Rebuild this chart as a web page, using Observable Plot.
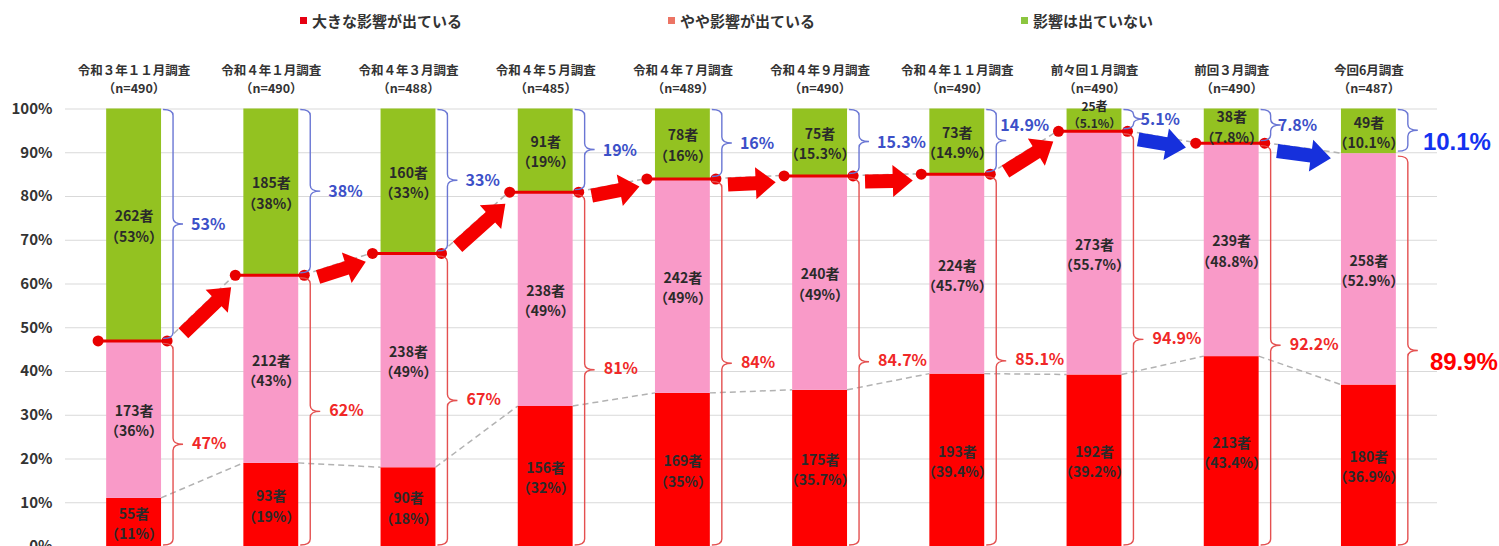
<!DOCTYPE html>
<html><head><meta charset="utf-8">
<script src="https://cdn.jsdelivr.net/npm/d3@7"></script>
<script src="https://cdn.jsdelivr.net/npm/@observablehq/plot@0.6"></script>
<style>
html,body{margin:0;padding:0;background:#fff;overflow:hidden;}
body{font-family:'Noto Sans CJK JP','Noto Sans',sans-serif;}
#legend{height:40px;display:flex;align-items:center;padding-left:300px;gap:206px;font-size:15px;font-weight:bold;color:#333;box-sizing:border-box;}
#legend .item{display:flex;align-items:center;gap:5px;white-space:nowrap;}
#legend .sw{width:7px;height:7px;display:inline-block;}
svg.plot, #chart svg{display:block;}
</style></head><body>
<div id="legend"></div>
<div id="chart"></div>
<script>
// ---- data ----
const surveys = ["令和３年１１月調査","令和４年１月調査","令和４年３月調査","令和４年５月調査","令和４年７月調査","令和４年９月調査","令和４年１１月調査","前々回１月調査","前回３月調査","今回6月調査"];
const sampleN = [490,490,488,485,489,490,490,490,490,487];
const seriesNames = ["大きな影響が出ている","やや影響が出ている","影響は出ていない"];
const majorCount = [55,93,90,156,169,175,193,192,213,180];
const majorPct   = [11,19,18,32,35,35.7,39.4,39.2,43.4,36.9];
const someCount  = [173,212,238,238,242,240,224,273,239,258];
const somePct    = [36,43,49,49,49,49,45.7,55.7,48.8,52.9];
const noneCount  = [262,185,160,91,78,75,73,25,38,49];
const nonePct    = [53,38,33,19,16,15.3,14.9,5.1,7.8,10.1];
const affectedPct = [47,62,67,81,84,84.7,85.1,94.9,92.2,89.9];

// ---- styles ----
const barColors = ["#fe0000","#f99ac8","#93c221"];
const legendColors = ["#e60012","#ec7464","#8cc63f"];
const font = "'Noto Sans CJK JP','Noto Sans',sans-serif";
const RED = "#f02828", BLUE = "#3c50c8";
const dotL = -36, dotR = 33;

// legend
const lg = document.getElementById("legend");
seriesNames.forEach((n,k)=>{
  const it = document.createElement("span"); it.className="item";
  const sw = document.createElement("span"); sw.className="sw"; sw.style.background=legendColors[k];
  const tx = document.createElement("span"); tx.textContent=n;
  it.appendChild(sw); it.appendChild(tx); lg.appendChild(it);
});

// tables built from the arrays
const rows = surveys.map((s,i)=>({s, i, n: sampleN[i], major: majorPct[i], top: majorPct[i]+somePct[i], none: nonePct[i], aff: affectedPct[i]}));
const segs = [];
rows.forEach(r=>{
  const i=r.i;
  segs.push({s:r.s,i,k:0,y1:0,y2:majorPct[i],c:majorCount[i],p:majorPct[i]});
  segs.push({s:r.s,i,k:1,y1:majorPct[i],y2:majorPct[i]+somePct[i],c:someCount[i],p:somePct[i]});
  segs.push({s:r.s,i,k:2,y1:majorPct[i]+somePct[i],y2:100,c:noneCount[i],p:nonePct[i]});
});
const linked = rows.slice(0,9);

function connectors(index, scales){
  const {x,y} = scales; const bw = x.bandwidth(); const cx = s=>x(s)+bw/2;
  const g = d3.create("svg:g").attr("fill","none").attr("stroke","#b2b2b2").attr("stroke-width",1.5).attr("stroke-dasharray","6,4");
  for(let i=0;i<rows.length-1;i++){
    const a=rows[i], b=rows[i+1];
    g.append("line").attr("x1",cx(a.s)+bw/2).attr("y1",y(a.major)).attr("x2",cx(b.s)-bw/2).attr("y2",y(b.major));
    const bx = i+1<linked.length ? cx(b.s)+dotL : cx(b.s)-bw/2;
    g.append("line").attr("x1",cx(a.s)+dotR).attr("y1",y(a.top)).attr("x2",bx).attr("y2",y(b.top));
  }
  return g.node();
}

function bracePath(x0,yt,yb){
  const xv=x0+10, xt=x0+20, ym=(yt+yb)/2, r=Math.min(6,(yb-yt)/4);
  return `M${x0},${yt}Q${xv},${yt} ${xv},${yt+r}L${xv},${ym-r}Q${xv},${ym} ${xt},${ym}Q${xv},${ym} ${xv},${ym+r}L${xv},${yb-r}Q${xv},${yb} ${x0},${yb}`;
}

function annotations(index, scales){
  const {x,y} = scales; const bw = x.bandwidth(); const cx = s=>x(s)+bw/2;
  const g = d3.create("svg:g");
  rows.forEach(r=>{
    const x0 = cx(r.s)+bw/2+2;
    g.append("path").attr("d",bracePath(x0,y(100)+1,y(r.top)-2)).attr("fill","none").attr("stroke","#6a76d4").attr("stroke-width",1.4);
    g.append("path").attr("d",bracePath(x0,y(r.top)+3,y(0)-1)).attr("fill","none").attr("stroke","#e45050").attr("stroke-width",1.4);
  });
  for(let i=0;i<rows.length-1;i++){
    const a=rows[i], b=rows[i+1];
    const ax=cx(a.s)+dotR, ay=y(a.top);
    const bx = i+1<linked.length ? cx(b.s)+dotL : cx(b.s)-bw/2, by=y(b.top);
    const vx=bx-ax, vy=by-ay, L=Math.hypot(vx,vy), dx=vx/L, dy=vy/L, nx=-dy, ny=dx;
    const off=6.5, sw=7, hw=16, hl=20;
    const p0=[ax+vx*0.18+nx*off, ay+vy*0.18+ny*off];
    const p1=[ax+vx*0.88+nx*off, ay+vy*0.88+ny*off];
    const bs=[p1[0]-dx*hl, p1[1]-dy*hl];
    const pts=[
      [p0[0]+nx*sw,p0[1]+ny*sw],[bs[0]+nx*sw,bs[1]+ny*sw],[bs[0]+nx*hw,bs[1]+ny*hw],p1,
      [bs[0]-nx*hw,bs[1]-ny*hw],[bs[0]-nx*sw,bs[1]-ny*sw],[p0[0]-nx*sw,p0[1]-ny*sw]];
    g.append("polygon").attr("points",pts.map(p=>p.join(",")).join(" ")).attr("fill", i<7 ? "#f50000" : "#1630dc");
  }
  return g.node();
}

const lbl = d=>`${d.c}者\n（${d.p}%）`;
const segMid = d=>(d.y1+d.y2)/2;
const isTopException = d=>d.k===2 && d.i===7;

const chart = Plot.plot({
  width: 1499, height: 506,
  marginTop: 68.5, marginBottom: 0, marginLeft: 65, marginRight: 62,
  style: {fontFamily: font, fontSize: "15px", fontWeight: "bold", color: "#333", background: "#fff"},
  x: {type: "band", domain: surveys, paddingInner: 0.6, paddingOuter: 0.3, round: false, axis: null},
  y: {domain: [0,100], ticks: 10, tickFormat: d=>d+"%", tickSize: 0, tickPadding: 13, label: null},
  color: {domain: seriesNames, range: barColors},
  marks: [
    Plot.ruleY(d3.range(0,101,10), {stroke: "#d9d9d9", strokeWidth: 1}),
    connectors,
    Plot.barY(segs, {x: "s", y1: "y1", y2: "y2", fill: d=>seriesNames[d.k]}),
    Plot.tickY(linked, {x: "s", y: "top", stroke: "#e80000", strokeWidth: 3, insetLeft: -(-dotL-27), insetRight: -(dotR-27)}),
    Plot.dot(linked, {x: "s", y: "top", r: 5.5, fill: "#e80000", dx: dotL}),
    Plot.dot(linked, {x: "s", y: "top", r: 5.5, fill: "#e80000", dx: dotR}),
    annotations,
    Plot.text(segs.filter(d=>!isTopException(d)), {x: "s", y: segMid, text: lbl, fontSize: 14, fontWeight: "bold", fill: "#2a2a2a", lineHeight: 1.45, fontFamily: font}),
    Plot.text(segs.filter(isTopException), {x: "s", y: segMid, text: lbl, fontSize: 12, fontWeight: "bold", fill: "#2a2a2a", lineHeight: 1.45, dy: -6, fontFamily: font}),
    // blue bracket labels
    Plot.text(rows.filter(d=>d.i<6), {x: "s", y: d=>(d.top+100)/2, text: d=>d.none+"%", textAnchor: "start", dx: 57, fill: BLUE, fontSize: 16, fontWeight: "bold", fontFamily: font}),
    Plot.text(rows.filter(d=>d.i===6), {x: "s", y: d=>(d.top+100)/2, text: d=>d.none+"%", textAnchor: "start", dx: 43, dy: -16, fill: BLUE, fontSize: 16, fontWeight: "bold", fontFamily: font}),
    Plot.text(rows.filter(d=>d.i===7||d.i===8), {x: "s", y: d=>(d.top+100)/2, text: d=>d.none+"%", textAnchor: "start", dx: 46, fill: BLUE, fontSize: 16, fontWeight: "bold", fontFamily: font}),
    // red bracket labels
    Plot.text(rows.filter(d=>d.i<9), {x: "s", y: d=>d.top/2, text: d=>d.aff+"%", textAnchor: "start", dx: 58, fill: RED, fontSize: 16, fontWeight: "bold", fontFamily: font}),
    // latest survey, large labels
    Plot.text(rows.filter(d=>d.i===9), {x: "s", y: d=>(d.top+100)/2, text: d=>d.none+"%", textAnchor: "start", dx: 54, dy: 11, fill: "#1432f0", fontSize: 24, fontWeight: "bold", fontFamily: "'Liberation Sans',Arial,sans-serif"}),
    Plot.text(rows.filter(d=>d.i===9), {x: "s", y: d=>d.top/2, text: d=>d.aff+"%", textAnchor: "start", dx: 61, dy: 12, fill: "#ff0000", fontSize: 24, fontWeight: "bold", fontFamily: "'Liberation Sans',Arial,sans-serif"}),
    // column headers (two lines)
    Plot.text(rows, {x: "s", text: d=>`${d.s}\n（n=${d.n}）`, frameAnchor: "top", lineAnchor: "middle", lineHeight: 1.45, dy: -30.5, fontSize: 12.5, fontWeight: "bold", fill: "#333", fontFamily: font})
  ]
});
document.getElementById("chart").appendChild(chart);
</script>
</body></html>
